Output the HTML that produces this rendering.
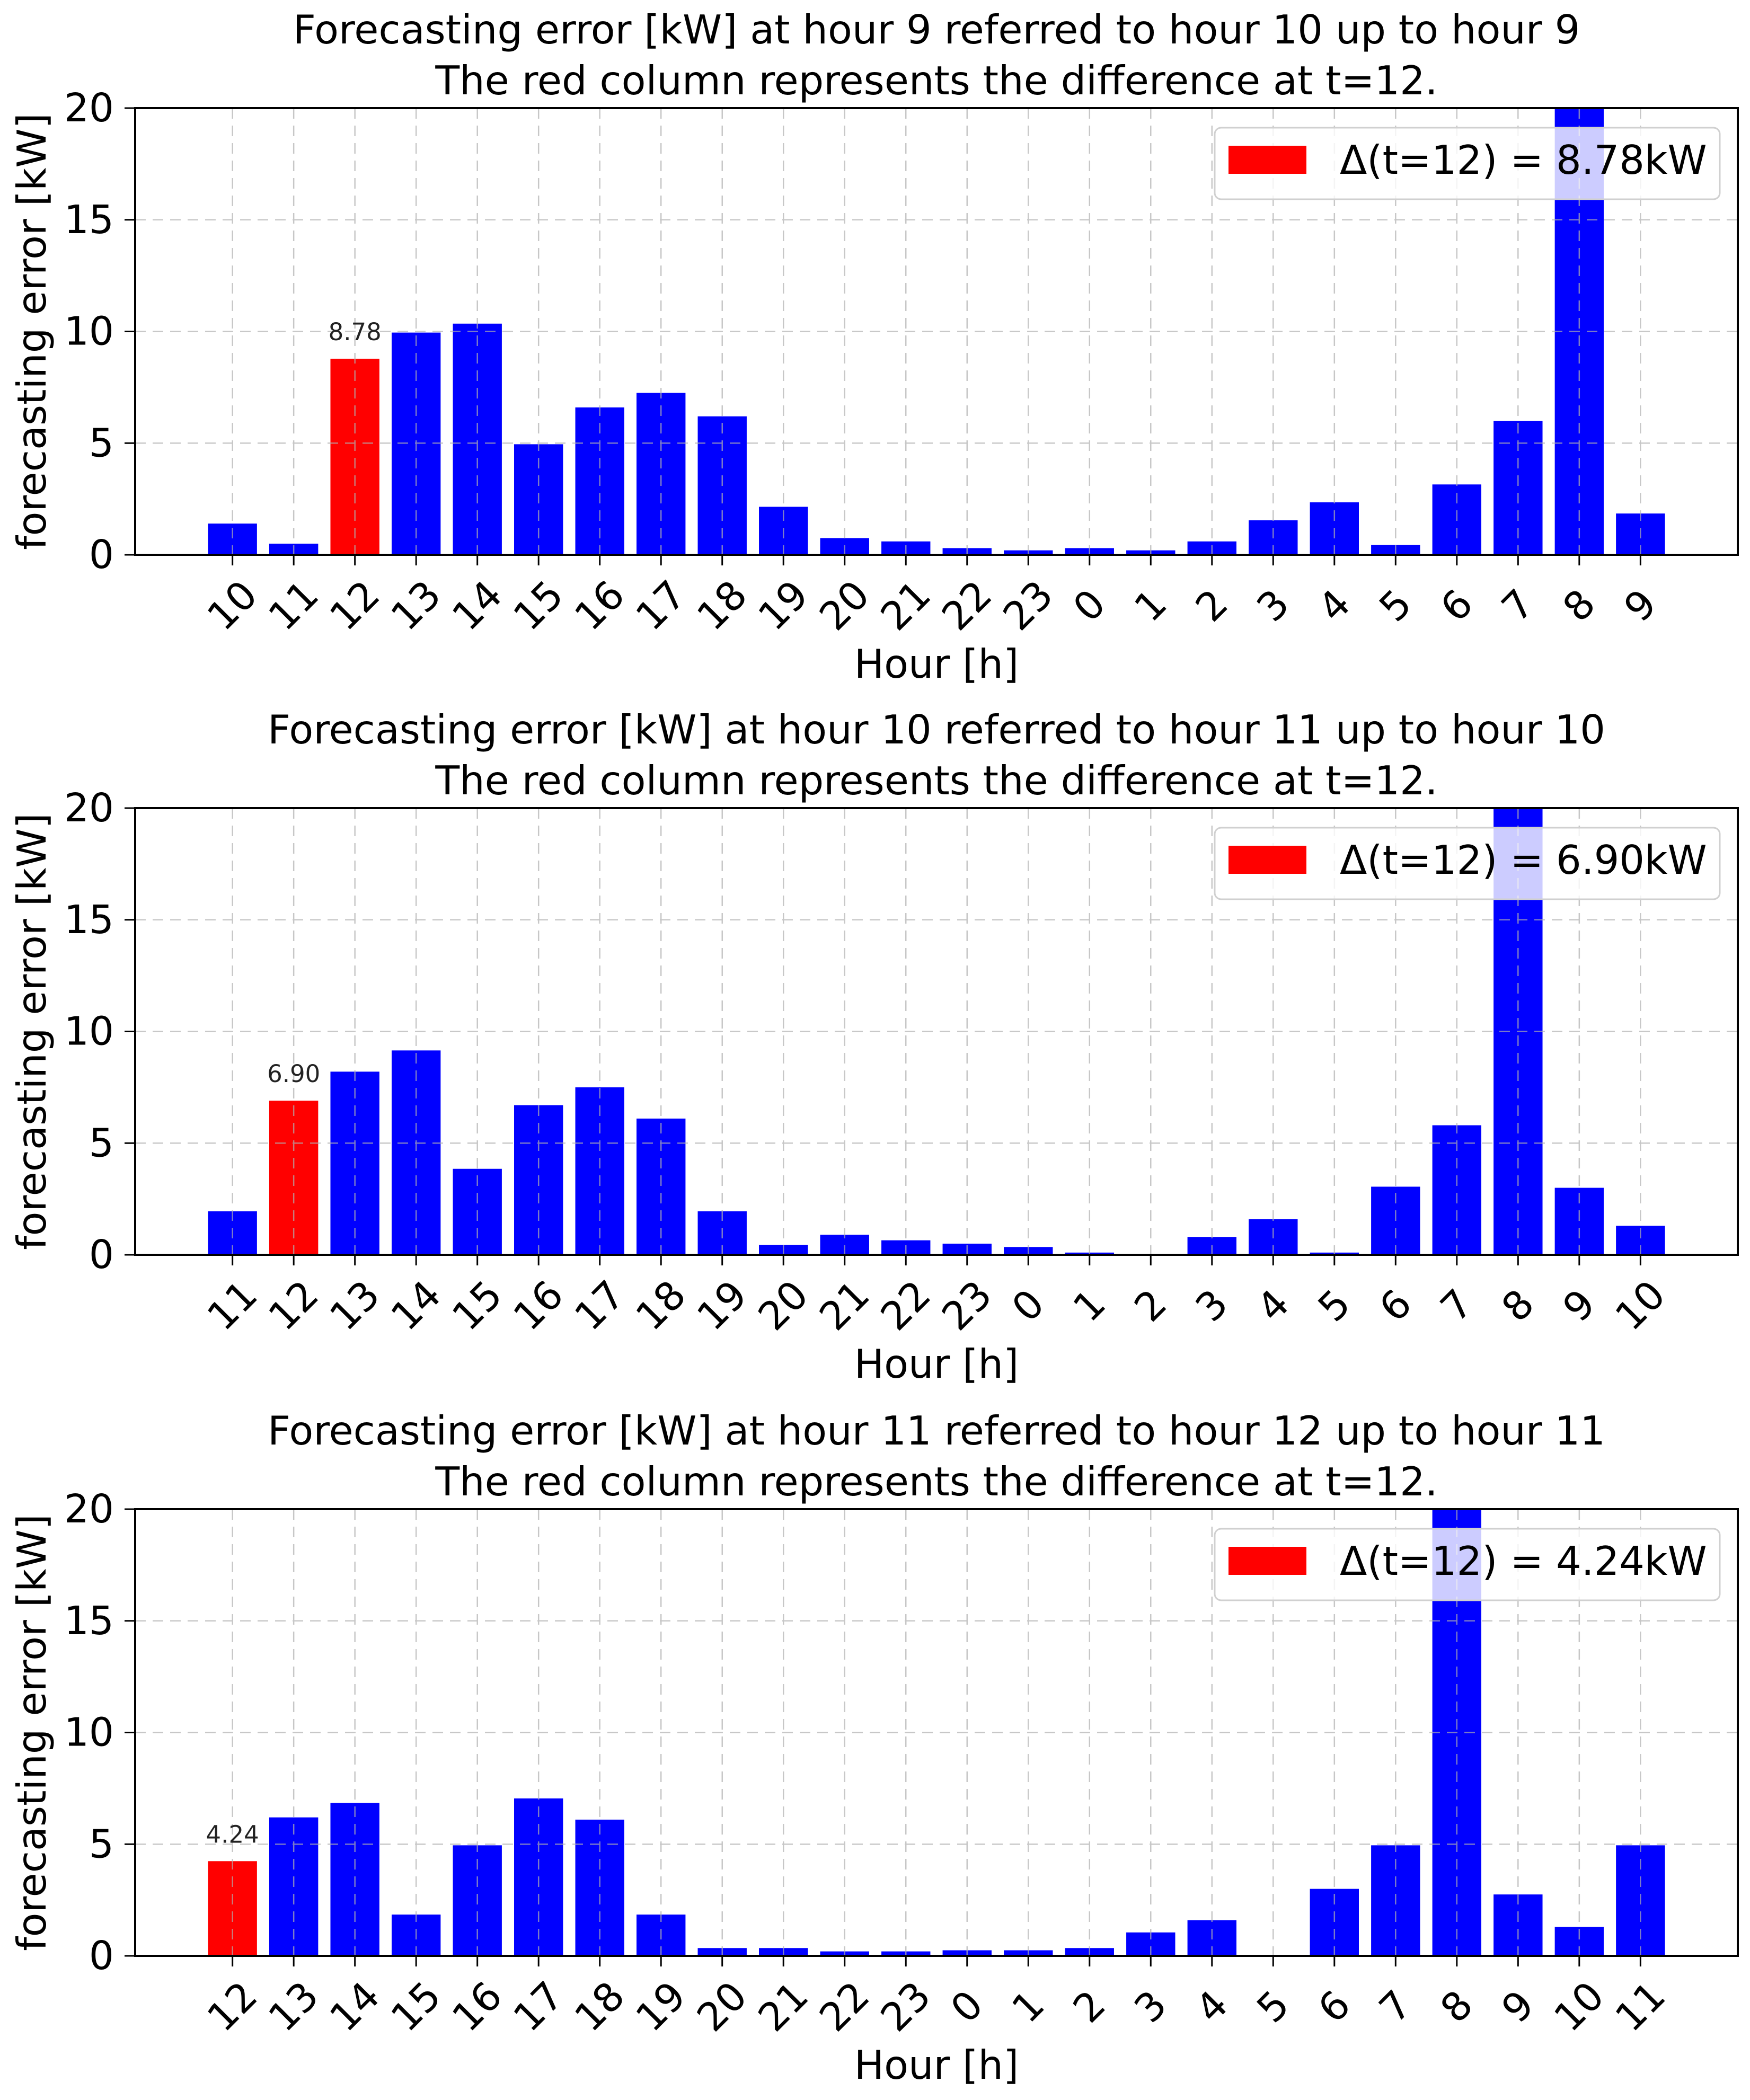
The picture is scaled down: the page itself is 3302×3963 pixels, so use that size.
<!DOCTYPE html>
<html><head><meta charset="utf-8"><style>
html,body{margin:0;padding:0;background:#fff;}
svg{display:block;font-family:"DejaVu Sans","Liberation Sans",sans-serif;}
</style></head><body>
<svg id="fig" width="3302" height="3963" viewBox="0 0 3302 3963" xmlns="http://www.w3.org/2000/svg"></svg>
<script>
// Panel 1
const cats1 = ["10","11","12","13","14","15","16","17","18","19","20","21","22","23","0","1","2","3","4","5","6","7","8","9"];
const vals1 = [1.4,0.5,8.78,9.95,10.35,4.95,6.6,7.25,6.2,2.15,0.75,0.6,0.3,0.2,0.3,0.2,0.6,1.55,2.35,0.45,3.15,6.0,25,1.85];
// Panel 2
const cats2 = ["11","12","13","14","15","16","17","18","19","20","21","22","23","0","1","2","3","4","5","6","7","8","9","10"];
const vals2 = [1.95,6.90,8.2,9.15,3.85,6.7,7.5,6.1,1.95,0.45,0.9,0.65,0.5,0.35,0.1,0,0.8,1.6,0.1,3.05,5.8,25,3.0,1.3];
// Panel 3
const cats3 = ["12","13","14","15","16","17","18","19","20","21","22","23","0","1","2","3","4","5","6","7","8","9","10","11"];
const vals3 = [4.24,6.2,6.85,1.85,4.95,7.05,6.1,1.85,0.35,0.35,0.2,0.2,0.25,0.25,0.35,1.05,1.6,0,3.0,4.95,25,2.75,1.3,4.95];
const yTicks = [0,5,10,15,20];
const titles1 = ["Forecasting error [kW] at hour 9 referred to hour 10 up to hour 9","Forecasting error [kW] at hour 10 referred to hour 11 up to hour 10","Forecasting error [kW] at hour 11 referred to hour 12 up to hour 11"];
const legendLabels = ["Δ(t=12) = 8.78kW","Δ(t=12) = 6.90kW","Δ(t=12) = 4.24kW"];
const barLabels = ["8.78","6.90","4.24"];
const redIndex = [2,1,0];

const NS="http://www.w3.org/2000/svg";
const svg=document.getElementById('fig');
function mk(tag,attrs,parent){const e=document.createElementNS(NS,tag);for(const k in attrs)e.setAttribute(k,attrs[k]);(parent||svg).appendChild(e);return e;}

const L=255,R=3279,H=843;
const tops=[204,1525,2848];
const xmin=-1.59,xmax=24.59,ymax=20;
const panels=[[cats1,vals1],[cats2,vals2],[cats3,vals3]];

panels.forEach((p,pi)=>{
  const cats=p[0],vals=p[1];
  const T=tops[pi],B=T+H;
  const xs=v=>L+(v-xmin)/(xmax-xmin)*(R-L);
  const ys=v=>B-Math.min(v,ymax)/ymax*H;
  const g=mk('g',{});
  
  
  const bw=xs(0.8)-xs(0);
  vals.forEach((v,i)=>{
    const r=mk('rect',{x:xs(i)-bw/2,y:ys(v),width:bw,height:B-ys(v),fill:i===redIndex[pi]?'#ff0000':'#0000ff'},g);
    
    
  });
  const grid=mk('g',{stroke:'#b0b0b0','stroke-width':2.5,'stroke-dasharray':'20,13',opacity:0.7},g);
  
  
  cats.forEach((c,i)=>{mk('line',{x1:xs(i),x2:xs(i),y1:T,y2:B},grid);});
  yTicks.forEach(t=>{mk('line',{x1:L,x2:R,y1:ys(t),y2:ys(t)},grid);});
  const ri=redIndex[pi];
  const bl=mk('text',{x:xs(ri),y:ys(vals[ri])-35,'font-size':45,'text-anchor':'middle',fill:'#222'},g);
  bl.textContent=barLabels[pi];
  
  
  const fr=mk('rect',{x:L,y:T,width:R-L,height:H,fill:'none',stroke:'#000','stroke-width':4},g);
  
  
  cats.forEach((c,i)=>{
    mk('line',{x1:xs(i),x2:xs(i),y1:B,y2:B+20,stroke:'#000','stroke-width':3},g);
    const cx=xs(i),cy=B+96;
    const t=mk('text',{x:cx,y:cy,'font-size':74,'text-anchor':'middle','dominant-baseline':'central',transform:`rotate(-45 ${cx} ${cy})`},g);
    t.textContent=c;
    
    
  });
  yTicks.forEach(v=>{
    mk('line',{x1:L-20,x2:L,y1:ys(v),y2:ys(v),stroke:'#000','stroke-width':3},g);
    const t=mk('text',{x:L-40,y:ys(v),'font-size':74,'text-anchor':'end','dominant-baseline':'central'},g);
    t.textContent=v;
    
    
  });
  const xl=mk('text',{x:(L+R)/2,y:B+206,'font-size':75,'text-anchor':'middle','dominant-baseline':'central'},g);
  xl.textContent='Hour [h]';
  
  
  const ycx=60,ycy=(T+B)/2;
  const yl=mk('text',{x:ycx,y:ycy,'font-size':75,'text-anchor':'middle','dominant-baseline':'central',transform:`rotate(-90 ${ycx} ${ycy})`},g);
  yl.textContent='forecasting error [kW]';
  
  
  const t1=mk('text',{x:(L+R)/2,y:T-148,'font-size':75,'text-anchor':'middle','dominant-baseline':'central'},g);
  t1.textContent=titles1[pi];
  
  
  const t2=mk('text',{x:(L+R)/2,y:T-52,'font-size':75,'text-anchor':'middle','dominant-baseline':'central'},g);
  t2.textContent='The red column represents the difference at t=12.';
  
  
  const lg=mk('g',{},g);
  
  
  mk('rect',{x:2292,y:T+37,width:953,height:135,rx:12,fill:'#fff','fill-opacity':0.8,stroke:'#d0d0d0','stroke-width':3},lg);
  const sw=mk('rect',{x:2318,y:T+71,width:147,height:53,fill:'#ff0000'},lg);
  
  
  const lt=mk('text',{x:2528,y:T+124,'font-size':75},lg);
  lt.textContent=legendLabels[pi];
  
  
});
</script>
</body></html>
